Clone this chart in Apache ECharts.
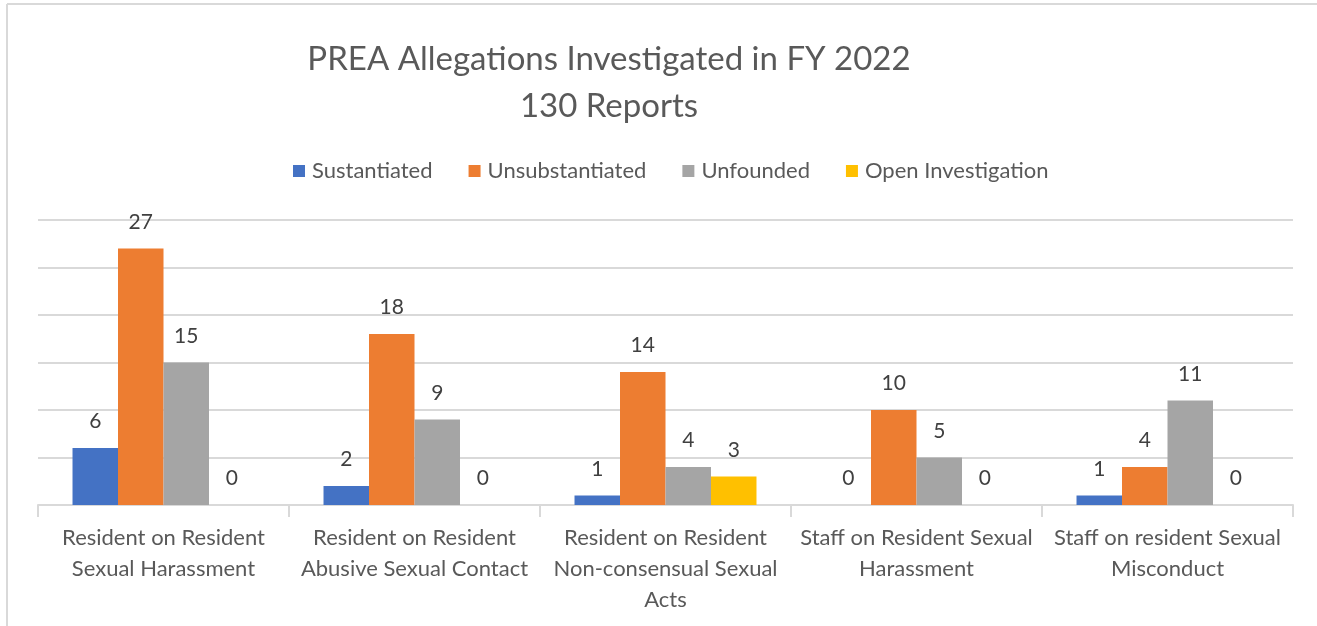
<!DOCTYPE html>
<html>
<head>
<meta charset="utf-8">
<title>PREA Allegations Investigated in FY 2022</title>
<script src="https://cdn.jsdelivr.net/npm/echarts@6/dist/echarts.min.js"></script>
<style>
  html, body { margin: 0; padding: 0; background: #ffffff; }
  #chart { width: 1317px; height: 626px; }
</style>
</head>
<body>
<div id="chart"></div>
<script>
// 类目（换行与原图一致）
var categories = [
  'Resident on Resident\nSexual Harassment',
  'Resident on Resident\nAbusive Sexual Contact',
  'Resident on Resident\nNon-consensual Sexual\nActs',
  'Staff on Resident Sexual\nHarassment',
  'Staff on resident Sexual\nMisconduct'
]
var seriesNames = ['Sustantiated', 'Unsubstantiated', 'Unfounded', 'Open Investigation']
var sustantiated = [6, 2, 1, 0, 1]
var unsubstantiated = [27, 18, 14, 10, 4]
var unfounded = [15, 9, 4, 5, 11]
var openInvestigation = [0, 0, 3, 0, 0]
var seriesData = [sustantiated, unsubstantiated, unfounded, openInvestigation]

var fontFamily = 'Lato, "Open Sans", sans-serif'
var textColor = '#595959'
var labelColor = '#404040'
var gridColor = '#d9d9d9'
// 柱条颜色
var barColors = ['#4472C4', '#ED7D31', '#A5A5A5', '#FFC000']

var chart = echarts.init(document.getElementById('chart'))

chart.setOption({
  animation: false,
  backgroundColor: '#ffffff',
  title: {
    text: 'PREA Allegations Investigated in FY 2022\n130 Reports',
    left: 604,
    top: 31,
    textAlign: 'center',
    textStyle: {
      color: textColor,
      fontFamily: fontFamily,
      fontWeight: 'normal',
      fontSize: 33,
      lineHeight: 47
    }
  },
  legend: {
    data: seriesNames,
    left: 288,
    top: 155,
    icon: 'rect',
    itemWidth: 12,
    itemHeight: 12,
    itemGap: 36,
    textStyle: {
      color: textColor,
      fontFamily: fontFamily,
      fontSize: 22,
      padding: [0, 0, 0, 2]
    }
  },
  grid: {
    left: 38,
    right: 24,
    top: 220,
    bottom: 121,
    containLabel: false
  },
  xAxis: {
    type: 'category',
    data: categories,
    axisLine: {
      lineStyle: { color: gridColor, width: 2 }
    },
    axisTick: {
      show: true,
      length: 12,
      lineStyle: { color: gridColor, width: 2 }
    },
    axisLabel: {
      color: textColor,
      fontFamily: fontFamily,
      fontSize: 22,
      lineHeight: 31,
      margin: 17,
      interval: 0,
      align: 'center'
    }
  },
  yAxis: {
    type: 'value',
    min: 0,
    max: 30,
    interval: 5,
    axisLine: { show: false },
    axisTick: { show: false },
    axisLabel: { show: false },
    splitLine: {
      lineStyle: { color: gridColor, width: 2 }
    }
  },
  series: seriesData.map(function (item, index) {
    return {
      name: seriesNames[index],
      type: 'bar',
      data: item,
      barGap: '0%',
      barCategoryGap: '27.5%',
      itemStyle: { color: barColors[index] },
      label: {
        show: true,
        position: 'top',
        distance: 16,
        color: labelColor,
        fontFamily: fontFamily,
        fontSize: 21
      }
    }
  }),
  graphic: [
    {
      type: 'line',
      shape: { x1: 7, y1: 4, x2: 1317, y2: 4 },
      style: { stroke: gridColor, lineWidth: 2 }
    },
    {
      type: 'line',
      shape: { x1: 7, y1: 4, x2: 7, y2: 626 },
      style: { stroke: gridColor, lineWidth: 2 }
    }
  ]
})
</script>
</body>
</html>
